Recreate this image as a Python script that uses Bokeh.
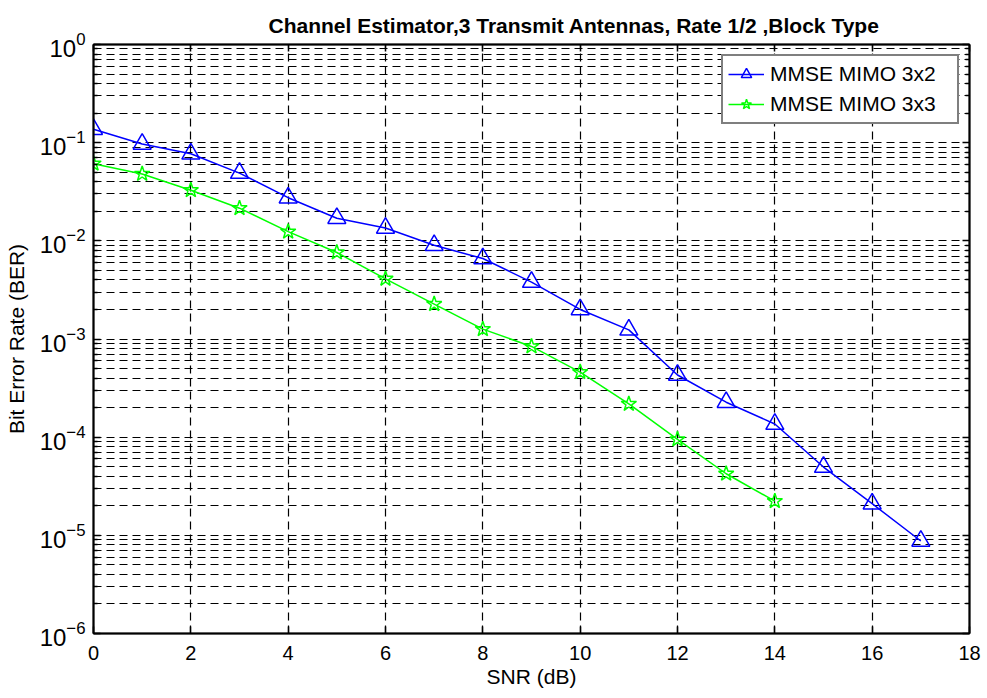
from bokeh.plotting import figure
from bokeh.models import (FixedTicker, LogAxis, LinearAxis, Range1d, Legend, LegendItem)
from bokeh.embed import file_html
from bokeh.resources import INLINE

# ---- data ----
snr_3x2 = list(range(0, 18))
ber_3x2 = [0.137, 0.097, 0.077, 0.049, 0.0275, 0.017, 0.0135, 0.0090, 0.0066,
           0.0038, 0.0020, 0.00124, 0.00043, 0.000227, 0.000136, 4.96e-5, 2.1e-5, 8.75e-6]
snr_3x3 = list(range(0, 15))
ber_3x3 = [0.061, 0.048, 0.0328, 0.0215, 0.0124, 0.0076, 0.0041, 0.00227, 0.00126,
           0.00084, 0.00046, 0.000218, 9.5e-5, 4.24e-5, 2.23e-5]
x_ticks = [0, 2, 4, 6, 8, 10, 12, 14, 16, 18]
y_major = [10.0 ** k for k in range(-6, 1)]
y_minor = [m * 10.0 ** k for k in range(-6, 0) for m in range(2, 10)]

FONT = "Liberation Sans"

p = figure(width=981, height=697, x_axis_type="linear", y_axis_type="log",
           x_range=Range1d(0, 18), y_range=Range1d(1e-6, 1),
           output_backend="svg", toolbar_location=None,
           title="Channel Estimator,3 Transmit Antennas, Rate 1/2 ,Block Type",
           min_border_left=93, min_border_right=12, min_border_top=44, min_border_bottom=64)

p.title.align = "left"
p.title.offset = 175
p.title.text_font = FONT
p.title.text_font_size = "21px"
p.title.text_font_style = "bold"
p.title.text_color = "black"
p.title.standoff = 15

p.outline_line_color = "black"
p.outline_line_width = 1.5
p.background_fill_color = "white"
p.border_fill_color = "white"

# axes
xt = FixedTicker(ticks=x_ticks)
yt = FixedTicker(ticks=y_major, minor_ticks=y_minor)
p.xaxis.ticker = xt
p.yaxis.ticker = yt

for ax in [p.xaxis[0], p.yaxis[0]]:
    ax.axis_line_color = "black"
    ax.axis_line_width = 2
    ax.major_tick_in = 7
    ax.major_tick_out = 0
    ax.minor_tick_in = 4
    ax.minor_tick_out = 0
    ax.major_tick_line_width = 1.5
    ax.minor_tick_line_width = 1.5
    ax.major_label_text_font = FONT
    ax.major_label_text_color = "black"
    ax.axis_label_text_font = FONT
    ax.axis_label_text_font_size = "21px"
    ax.axis_label_text_font_style = "normal"
    ax.axis_label_text_color = "black"
p.xaxis.major_label_text_font_size = "20px"
p.yaxis.major_label_text_font_size = "24px"
p.xaxis.minor_tick_line_color = None
p.xaxis.axis_label = "SNR (dB)"
p.yaxis.axis_label = "Bit Error Rate (BER)"
p.xaxis.major_label_standoff = 12
p.xaxis.axis_label_standoff = 2
p.yaxis.major_label_standoff = 8
p.yaxis.axis_label_standoff = 9

# top / right axes (tick marks only)
ra = LogAxis(ticker=FixedTicker(ticks=y_major, minor_ticks=y_minor),
             major_label_text_font_size="1px", major_label_text_alpha=0,
             major_label_standoff=0, major_tick_line_width=1.5, minor_tick_line_width=1.5,
             major_tick_in=7, major_tick_out=0, axis_line_width=2,
             minor_tick_in=4, minor_tick_out=0, axis_line_color="black")
ta = LinearAxis(ticker=FixedTicker(ticks=x_ticks),
                major_label_text_font_size="1px", major_label_text_alpha=0,
                major_label_standoff=0, major_tick_line_width=1.5,
                major_tick_in=7, major_tick_out=0, axis_line_width=2,
                minor_tick_line_color=None, axis_line_color="black")
p.add_layout(ra, "right")
p.add_layout(ta, "above")

# grids
p.xgrid.ticker = xt
p.ygrid.ticker = yt
for g in [p.xgrid[0], p.ygrid[0]]:
    g.grid_line_color = "black"
    g.grid_line_dash = "8 5"
    g.grid_line_width = 1.2
    g.grid_line_alpha = 1
p.ygrid.minor_grid_line_color = "black"
p.ygrid.minor_grid_line_dash = "8 5"
p.ygrid.minor_grid_line_width = 1.2

# series
l1 = p.line(snr_3x2, ber_3x2, line_color="#0000ff", line_width=1.5)
m1 = p.scatter(snr_3x2, ber_3x2, marker="triangle", size=18, line_color="#0000ff",
               fill_color=None, line_width=1.5)
l2 = p.line(snr_3x3, ber_3x3, line_color="#00ff00", line_width=1.5)
m2 = p.scatter(snr_3x3, ber_3x3, marker="star", size=16, line_color="#00ff00",
               fill_color=None, line_width=1.5)

legend = Legend(items=[LegendItem(label="MMSE MIMO 3x2", renderers=[l1, m1]),
                       LegendItem(label="MMSE MIMO 3x3", renderers=[l2, m2])],
                location="top_right")
legend.border_line_color = "black"
legend.border_line_width = 2
legend.label_text_font = FONT
legend.label_text_font_size = "21px"
legend.label_text_color = "black"
legend.glyph_width = 36
legend.glyph_height = 26
legend.label_width = 182
legend.spacing = 4
legend.padding = 5
legend.margin = 10
legend.label_standoff = 6
legend.background_fill_color = "white"
legend.background_fill_alpha = 1
p.add_layout(legend)

open("out.html", "w").write(file_html(p, INLINE))
